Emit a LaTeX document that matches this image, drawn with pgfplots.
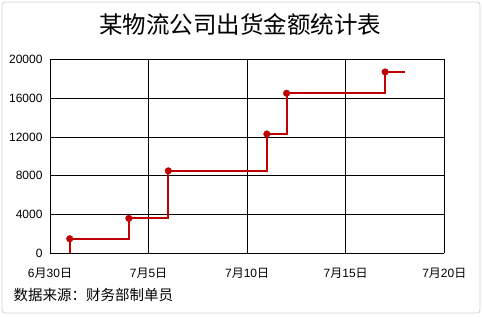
\documentclass[border=0pt]{standalone}
\usepackage{pgfplots}
\pgfplotsset{compat=1.18}
\usepackage{fontspec}
\setmainfont{Liberation Sans}
\newfontfamily\cjk{Noto Sans CJK SC}
\definecolor{stepred}{RGB}{192,0,0}
\begin{document}
\begin{tikzpicture}
\path[use as bounding box] (0pt,0pt) rectangle (482pt,316pt);
\draw[color=black!18, line width=0.8pt, rounded corners=3pt] (2pt,3pt) rectangle (480pt,314pt);
\node[font=\cjk\fontsize{23.5}{26}\selectfont] at (240pt,291pt) {某物流公司出货金额统计表};
\node[anchor=west, font=\cjk\fontsize{14.5}{17}\selectfont] at (10pt,21pt) {数据来源：财务部制单员};
\begin{axis}[
  anchor=south west, at={(50pt,62.7pt)},
  scale only axis, width=394.3pt, height=194pt,
  xmin=0, xmax=20, ymin=0, ymax=20000,
  xtick={0,5,10,15,20},
  xticklabels={6{\cjk 月}30{\cjk 日},7{\cjk 月}5{\cjk 日},7{\cjk 月}10{\cjk 日},7{\cjk 月}15{\cjk 日},7{\cjk 月}20{\cjk 日}},
  ytick={0,4000,8000,12000,16000,20000},
  /pgf/number format/1000 sep={},
  /pgf/number format/assume math mode=true,
  scaled y ticks=false,
  tick label style={font=\fontsize{12}{14}\selectfont},
  xticklabel style={yshift=-11pt},
  yticklabel style={xshift=-4pt},
  major tick length=0pt,
  grid=major,
  major grid style={black, line width=0.7pt},
  axis line style={black, line width=0.7pt},
  axis x line*=bottom,
  axis y line*=left,
  clip=false,
]
\draw[black, line width=0.7pt] (rel axis cs:0,1) -- (rel axis cs:1,1) -- (rel axis cs:1,0);
\draw[black, line width=1.4pt] (rel axis cs:0,0) -- (rel axis cs:1,0);
\addplot[const plot, stepred, line width=2pt, mark=none]
  coordinates {(1,0) (1,1500) (4,3600) (6,8500) (11,12300) (12,16500) (17,18700) (18,18700)};
\addplot[only marks, stepred, mark=*, mark size=3.3pt]
  coordinates {(1,1500) (4,3600) (6,8500) (11,12300) (12,16500) (17,18700)};
\end{axis}
\end{tikzpicture}
\end{document}
